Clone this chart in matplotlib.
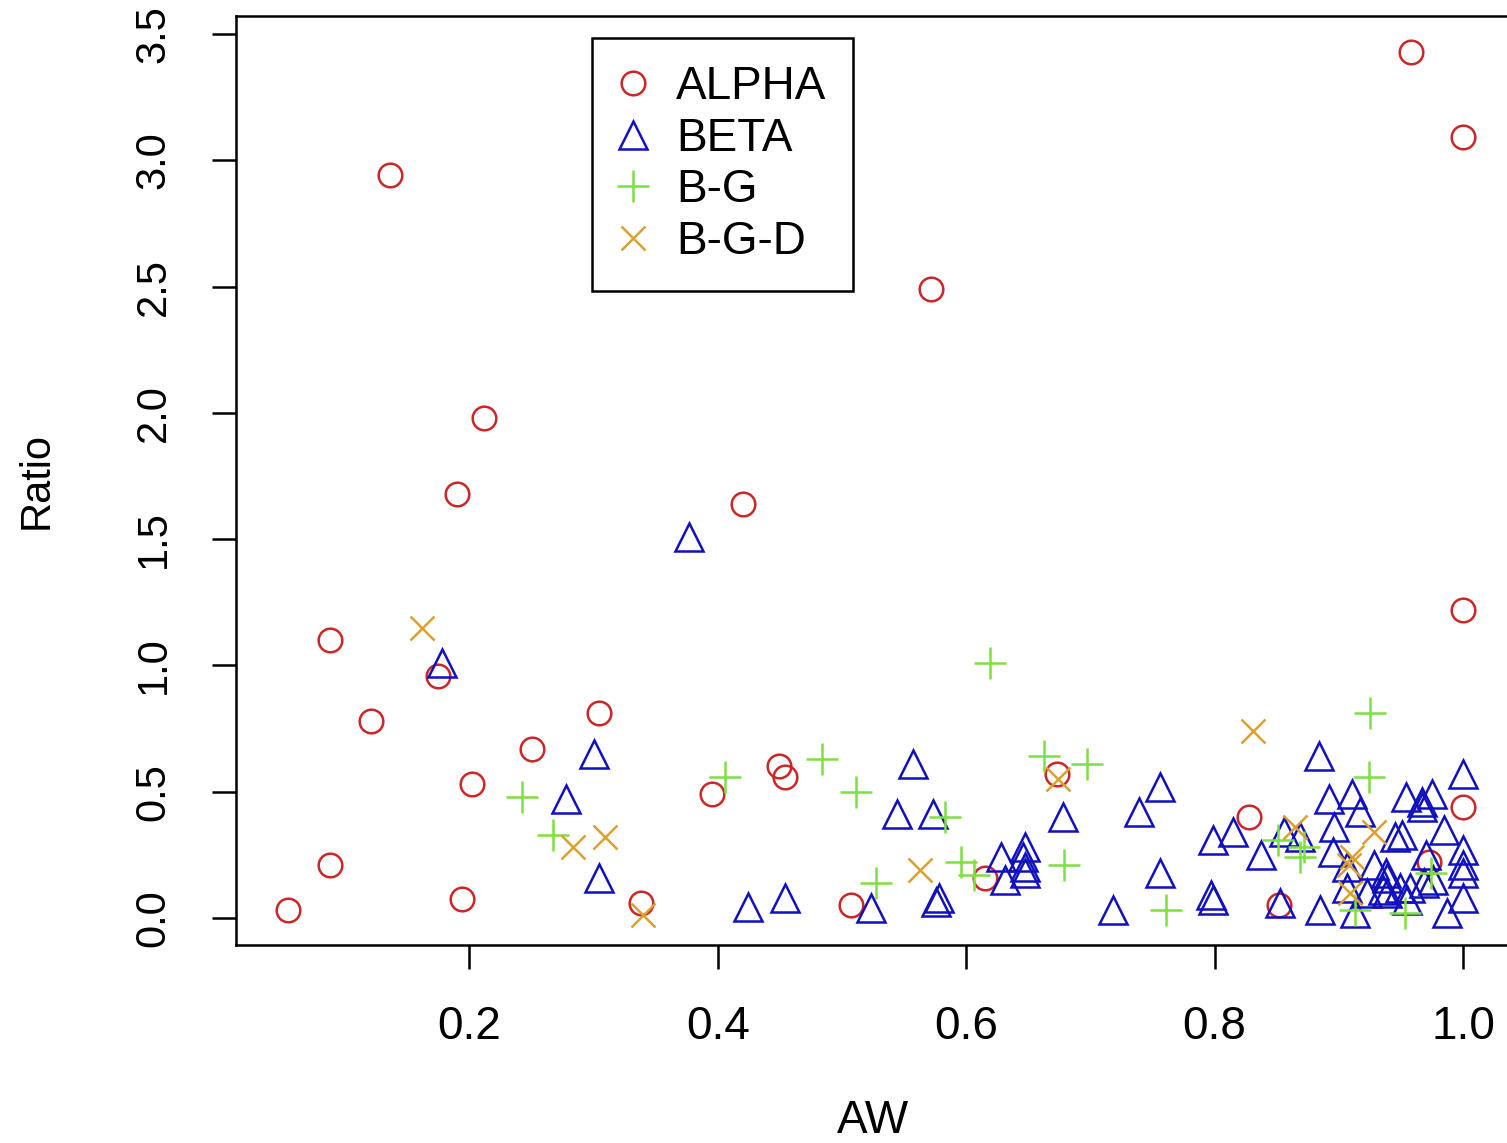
import matplotlib
matplotlib.use('Agg')
import matplotlib.pyplot as plt

plt.rcParams['font.family'] = ['Liberation Sans', 'DejaVu Sans']

# ALPHA series
alpha_x = [0.054, 0.088, 0.088, 0.121, 0.136, 0.175, 0.190, 0.194, 0.202, 0.212,
           0.250, 0.304, 0.338, 0.395, 0.420, 0.449, 0.454, 0.507, 0.572, 0.615,
           0.673, 0.828, 0.852, 0.958, 1.0, 1.0, 1.0, 0.973]
alpha_y = [0.03, 0.21, 1.10, 0.78, 2.94, 0.96, 1.68, 0.075, 0.53, 1.98,
           0.67, 0.81, 0.06, 0.49, 1.64, 0.60, 0.56, 0.05, 2.49, 0.16,
           0.57, 0.40, 0.05, 3.43, 3.09, 1.22, 0.44, 0.22]

# BETA series
beta_x = [0.178, 0.377, 0.300, 0.278, 0.304, 0.424, 0.454, 0.557, 0.544, 0.573,
          0.523, 0.578, 0.576, 0.756, 0.739, 0.678, 0.647, 0.646, 0.647, 0.647,
          0.628, 0.631, 0.756, 0.718, 0.799, 0.884, 0.815, 0.837, 0.856, 0.869,
          0.797, 0.799, 0.853, 0.885, 0.892, 0.911, 0.917, 0.896, 0.895, 0.907,
          0.928, 0.907, 0.923, 0.936, 0.913, 0.938, 1.0, 0.954, 0.975, 0.967,
          0.967, 0.985, 0.945, 0.951, 1.0, 0.970, 1.0, 1.0, 0.949, 0.957,
          0.969, 0.976, 0.939, 0.955, 1.0, 0.987, 0.939]
beta_y = [1.01, 1.51, 0.65, 0.47, 0.16, 0.045, 0.08, 0.61, 0.41, 0.41,
          0.04, 0.08, 0.065, 0.52, 0.42, 0.40, 0.28, 0.24, 0.20, 0.18,
          0.24, 0.15, 0.18, 0.03, 0.31, 0.64, 0.34, 0.25, 0.34, 0.32,
          0.09, 0.07, 0.06, 0.03, 0.47, 0.49, 0.42, 0.36, 0.26, 0.20,
          0.21, 0.12, 0.10, 0.11, 0.02, 0.18, 0.57, 0.48, 0.49, 0.46,
          0.44, 0.35, 0.32, 0.33, 0.27, 0.25, 0.21, 0.18, 0.12, 0.12,
          0.14, 0.15, 0.10, 0.07, 0.08, 0.02, 0.16]

# B-G series
bg_x = [0.242, 0.267, 0.406, 0.484, 0.511, 0.583, 0.527, 0.596, 0.606, 0.619,
        0.663, 0.697, 0.679, 0.761, 0.925, 0.924, 0.974, 0.913, 0.953, 0.851,
        0.872, 0.869]
bg_y = [0.48, 0.33, 0.56, 0.63, 0.50, 0.40, 0.14, 0.22, 0.17, 1.01,
        0.64, 0.61, 0.21, 0.03, 0.81, 0.56, 0.18, 0.03, 0.02, 0.31,
        0.28, 0.24]

# B-G-D series
bgd_x = [0.162, 0.283, 0.309, 0.340, 0.563, 0.674, 0.831, 0.865, 0.928, 0.911,
         0.908, 0.909]
bgd_y = [1.15, 0.28, 0.32, 0.01, 0.19, 0.55, 0.74, 0.36, 0.34, 0.24,
         0.21, 0.10]

fig = plt.figure(figsize=(15.07, 11.43), dpi=100)
ax = fig.add_axes([0.1566, 0.1732, 0.8455, 0.8128])

lw = 1.8
ax.plot(alpha_x, alpha_y, 'o', ms=17, mfc='none', mec='#CD2626', mew=lw, label='ALPHA')
ax.plot(beta_x, beta_y, '^', ms=20, mfc='none', mec='#1010C0', mew=lw, label='BETA')
ax.plot(bg_x, bg_y, '+', ms=23, mec='#7FE040', mew=lw, label='B-G')
ax.plot(bgd_x, bgd_y, 'x', ms=17, mec='#DAA030', mew=lw, label='B-G-D')

ax.set_xlim(0.012, 1.038)
ax.set_ylim(-0.107, 3.571)
ax.set_xticks([0.2, 0.4, 0.6, 0.8, 1.0])
ax.set_xticklabels(['0.2', '0.4', '0.6', '0.8', '1.0'])
ax.set_yticks([0.0, 0.5, 1.0, 1.5, 2.0, 2.5, 3.0, 3.5])
ax.set_yticklabels(['0.0', '0.5', '1.0', '1.5', '2.0', '2.5', '3.0', '3.5'])

for s in ax.spines.values():
    s.set_linewidth(lw)
ax.tick_params(axis='both', length=17, width=lw, colors='black')
ax.tick_params(axis='x', pad=26, labelsize=33)
ax.tick_params(axis='y', pad=28, labelsize=30, labelrotation=90)
for t in ax.get_yticklabels():
    t.set_va('center')

ax.set_xlabel('AW', fontsize=33, labelpad=36)
ax.set_ylabel('Ratio', fontsize=30, labelpad=55)

leg = ax.legend(loc='upper left', bbox_to_anchor=(0.2794, 0.976), fontsize=33,
                fancybox=False, framealpha=1, edgecolor='black',
                labelspacing=0.17, handletextpad=0.65, handlelength=0.61,
                borderpad=0.58, borderaxespad=0)
leg.get_frame().set_linewidth(lw)

plt.savefig('out.png', dpi=100)
